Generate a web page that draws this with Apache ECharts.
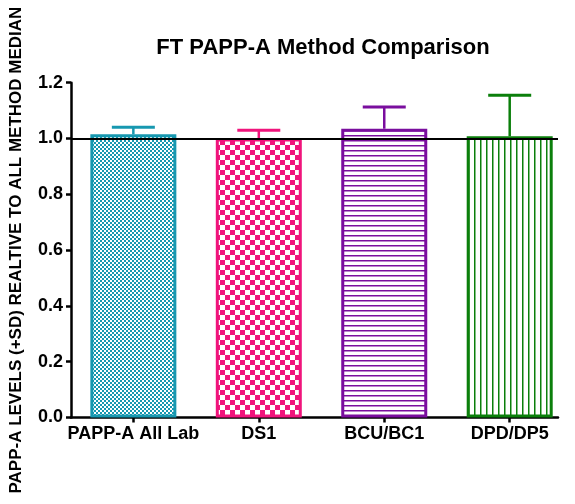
<!DOCTYPE html>
<html>
<head>
<meta charset="utf-8">
<script src="https://cdn.jsdelivr.net/npm/echarts@6/dist/echarts.min.js"></script>
<style>
  html, body { margin: 0; padding: 0; background: #fff; }
  #chart { width: 575px; height: 504px; }
</style>
</head>
<body>
<div id="chart"></div>
<script>
// Method comparison data (ratio to all-method median)
const categories = ['PAPP-A All Lab', 'DS1', 'BCU/BC1', 'DPD/DP5'];
const means = [1.015, 1.0, 1.035, 1.008];
const sds = [0.025, 0.03, 0.078, 0.147];
const yTicks = [0, 0.2, 0.4, 0.6, 0.8, 1.0, 1.2];
const referenceLevel = 1.0;

const colors = ['#1798b0', '#f0147c', '#7a0e9e', '#0b7f0b'];

// Fill patterns for each bar
function makePattern(kind, color) {
  const c = document.createElement('canvas');
  const ctx = c.getContext('2d');
  if (kind === 'fineChecker') {
    c.width = 4; c.height = 4;
    ctx.fillStyle = '#fff'; ctx.fillRect(0, 0, 4, 4);
    ctx.fillStyle = color;
    ctx.fillRect(0, 0, 2, 2); ctx.fillRect(2, 2, 2, 2);
  } else if (kind === 'checker') {
    c.width = 10; c.height = 10;
    ctx.fillStyle = '#fff'; ctx.fillRect(0, 0, 10, 10);
    ctx.fillStyle = color;
    ctx.fillRect(0, 0, 5, 5); ctx.fillRect(5, 5, 5, 5);
  } else if (kind === 'hlines') {
    c.width = 5; c.height = 5;
    ctx.fillStyle = '#fff'; ctx.fillRect(0, 0, 5, 5);
    ctx.fillStyle = color; ctx.fillRect(0, 0, 5, 1.5);
  } else {
    c.width = 6; c.height = 6;
    ctx.fillStyle = '#fff'; ctx.fillRect(0, 0, 6, 6);
    ctx.fillStyle = color; ctx.fillRect(0, 0, 1.5, 6);
  }
  return { image: c, repeat: 'repeat' };
}
const patternKinds = ['fineChecker', 'checker', 'hlines', 'vlines'];

const barData = means.map((m, i) => ({
  value: [i, m],
  itemStyle: {
    color: makePattern(patternKinds[i], colors[i]),
    borderColor: colors[i],
    borderWidth: 3
  }
}));
const errData = means.map((m, i) => [i, m, sds[i]]);

const font = "'Liberation Sans', Arial, sans-serif";
const chart = echarts.init(document.getElementById('chart'), null, { renderer: 'canvas' });

chart.setOption({
  animation: false,
  title: {
    text: 'FT PAPP-A Method Comparison',
    left: 318, top: 32, textAlign: 'center',
    textStyle: { fontFamily: font, fontWeight: 'bold', fontSize: 22, color: '#000' }
  },
  grid: { left: 70, right: 17, top: 82.7, bottom: 86.5 },
  xAxis: {
    type: 'value',
    min: -0.497, max: 3.385,
    splitLine: { show: false },
    axisLine: { show: true, onZero: false, lineStyle: { color: '#000', width: 2.5 } },
    axisTick: { show: true, customValues: [0, 1, 2, 3], length: 5, lineStyle: { color: '#000', width: 2.5 } },
    axisLabel: {
      customValues: [0, 1, 2, 3],
      formatter: v => categories[Math.round(v)],
      fontFamily: font, fontWeight: 'bold', fontSize: 18, color: '#000', margin: 8
    }
  },
  yAxis: {
    type: 'value',
    min: 0, max: 1.2, interval: 0.2,
    name: 'PAPP-A LEVELS (+SD) REALTIVE TO ALL METHOD MEDIAN',
    nameLocation: 'middle', nameGap: 46,
    nameTextStyle: { fontFamily: font, fontWeight: 'bold', fontSize: 17, color: '#000' },
    splitLine: { show: false },
    axisLine: { show: true, onZero: false, lineStyle: { color: '#000', width: 2.5 } },
    axisTick: { show: true, length: 5, lineStyle: { color: '#000', width: 2.5 } },
    axisLabel: {
      formatter: v => v.toFixed(1),
      fontFamily: font, fontWeight: 'bold', fontSize: 18, color: '#000', margin: 8
    }
  },
  series: [
    {
      type: 'line', data: [], z: 1, silent: true,
      markLine: {
        symbol: 'none', silent: true, label: { show: false },
        lineStyle: { color: '#000', width: 2, type: 'solid' },
        data: [{ yAxis: referenceLevel }]
      }
    },
    {
      type: 'bar', data: barData, barWidth: 86, z: 3
    },
    {
      type: 'custom', z: 4,
      data: errData,
      renderItem: function (params, api) {
        const i = params.dataIndex;
        const base = api.coord([api.value(0), api.value(1)]);
        const top = api.coord([api.value(0), api.value(1) + api.value(2)]);
        const c = colors[i];
        return {
          type: 'group',
          children: [
            { type: 'line', shape: { x1: base[0], y1: base[1], x2: top[0], y2: top[1] },
              style: { stroke: c, lineWidth: 2.5 } },
            { type: 'line', shape: { x1: top[0] - 21.5, y1: top[1], x2: top[0] + 21.5, y2: top[1] },
              style: { stroke: c, lineWidth: 3 } }
          ]
        };
      }
    }
  ]
});
</script>
</body>
</html>
